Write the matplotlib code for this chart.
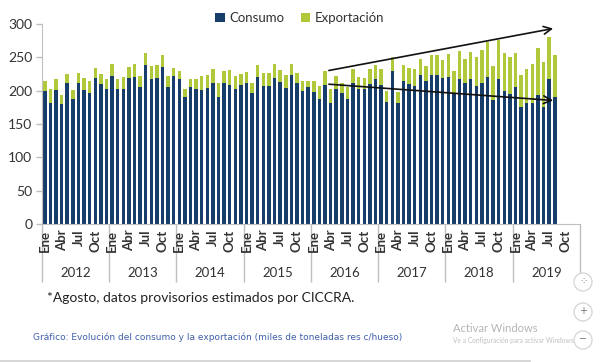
import matplotlib.pyplot as plt
import numpy as np
from matplotlib.patches import Circle
from matplotlib.lines import Line2D
import matplotlib.transforms as mtransforms

plt.rcParams['font.family'] = ['Lato', 'DejaVu Sans']

years = ['2012', '2013', '2014', '2015', '2016', '2017', '2018', '2019']
month_labels = ['Ene', 'Abr', 'Jul', 'Oct']

# miles de toneladas res c/hueso, ene-2012 .. ago-2019
consumo = [
    200, 182, 201, 180, 212, 187, 212, 201, 197, 219, 210, 203,
    222, 203, 202, 219, 220, 205, 238, 218, 219, 235, 205, 222,
    217, 191, 205, 202, 201, 204, 211, 190, 211, 208, 203, 208,
    212, 196, 220, 207, 207, 219, 213, 204, 224, 212, 200, 205,
    198, 188, 208, 182, 203, 196, 188, 212, 202, 202, 210, 218,
    209, 183, 229, 182, 215, 210, 207, 224, 215, 223, 223, 219,
    221, 196, 218, 211, 217, 207, 211, 220, 186, 218, 200, 195,
    206, 176, 182, 182, 194, 175, 218, 191,
]
exportacion = [
    15, 20, 17, 14, 13, 14, 14, 18, 17, 15, 15, 14,
    18, 14, 18, 16, 20, 17, 18, 19, 19, 19, 17, 12,
    13, 12, 13, 15, 21, 20, 22, 22, 19, 23, 19, 17,
    16, 15, 19, 19, 19, 21, 18, 19, 16, 15, 14, 9,
    16, 19, 21, 20, 19, 15, 18, 21, 19, 17, 22, 20,
    23, 16, 22, 16, 23, 24, 25, 23, 22, 31, 31, 27,
    34, 33, 42, 36, 41, 44, 50, 53, 51, 58, 57, 56,
    50, 48, 50, 58, 70, 68, 63, 63,
]

navy = '#173d6a'
green = '#b0c93b'
gray = '#bfbfbf'
txt = '#333333'

fig = plt.figure(figsize=(6, 3.62), dpi=100)
ax = fig.add_axes([42 / 600, 1 - 224 / 362, 538 / 600, 200 / 362])

x = np.arange(len(consumo))
ax.bar(x, consumo, width=0.62, color=navy, label='Consumo')
ax.bar(x, exportacion, width=0.62, bottom=consumo, color=green, label='Exportación')

ax.set_xlim(-0.5, 12 * len(years) - 0.5)
ax.set_ylim(0, 300)
ax.set_yticks(range(0, 301, 50))
ax.tick_params(axis='y', colors=gray, labelcolor=txt, labelsize=10, length=4, width=1, pad=3)

for s in ['top', 'right']:
    ax.spines[s].set_visible(False)
ax.spines['left'].set_color(gray)
ax.spines['bottom'].set_color(gray)

# year separators (long ticks) and month labels
ax.set_xticks([12 * k - 0.5 for k in range(len(years) + 1)])
ax.set_xticklabels([])
ax.tick_params(axis='x', which='major', length=42, width=1, color=gray)
minor_pos = [12 * k + 3 * m for k in range(len(years)) for m in range(4)]
ax.set_xticks(minor_pos, minor=True)
ax.set_xticklabels(month_labels * len(years), minor=True, rotation=90,
                   fontsize=9.5, fontweight='bold', color=txt)
ax.tick_params(axis='x', which='minor', length=0, pad=4)

trans = mtransforms.blended_transform_factory(ax.transData, ax.transAxes)
for k, yr in enumerate(years):
    ax.text(12 * k + 5.5, -0.245, yr, transform=trans, ha='center', va='center',
            fontsize=9.5, color=txt)

# trend arrows
ax.annotate('', xy=(91.2, 294), xytext=(50.2, 229.5),
            arrowprops=dict(arrowstyle='->', color='#111111', lw=1.2, mutation_scale=14))
ax.annotate('', xy=(91.2, 185), xytext=(50.2, 210),
            arrowprops=dict(arrowstyle='->', color='#111111', lw=1.2, mutation_scale=14))

fig.legend(loc='center', bbox_to_anchor=(0.5, 1 - 18 / 362), ncol=2, frameon=False,
           fontsize=9.5, handlelength=0.7, handleheight=0.7, handletextpad=0.4,
           columnspacing=1.2, labelcolor=txt)

fig.text(47 / 600, 1 - 298 / 362, '*Agosto, datos provisorios estimados por CICCRA.',
         fontsize=10, color='#222222', va='center')
fig.text(33 / 600, 1 - 337 / 362,
         'Gráfico: Evolución del consumo y la exportación (miles de toneladas res c/hueso)',
         fontsize=6.5, color='#3f5fa8', va='center', family=['DejaVu Sans'])

fig.text(453 / 600, 1 - 328 / 362, 'Activar Windows', fontsize=8, color='#b5b5b5', va='center')
fig.text(453 / 600, 1 - 341 / 362, 'Ve a Configuración para activar Windows.',
         fontsize=4.8, color='#c0c0c0', va='center')

for cy, sym in [(282, '⁘'), (312, '+'), (340, '−')]:
    c = Circle((583, 362 - cy), 9, transform=None, facecolor='white',
               edgecolor='#d8d8d8', lw=1, zorder=5)
    fig.patches.append(c)
    fig.text(583 / 600, 1 - (cy - 1) / 362, sym, ha='center', va='center',
             fontsize=7, color='#777777', zorder=6, family=['DejaVu Sans'])

fig.lines.append(Line2D([0, 530 / 600], [1.5 / 362, 1.5 / 362], transform=fig.transFigure,
                        color='#cfcfcf', lw=1.2))

fig.savefig('out.png', dpi=100)
